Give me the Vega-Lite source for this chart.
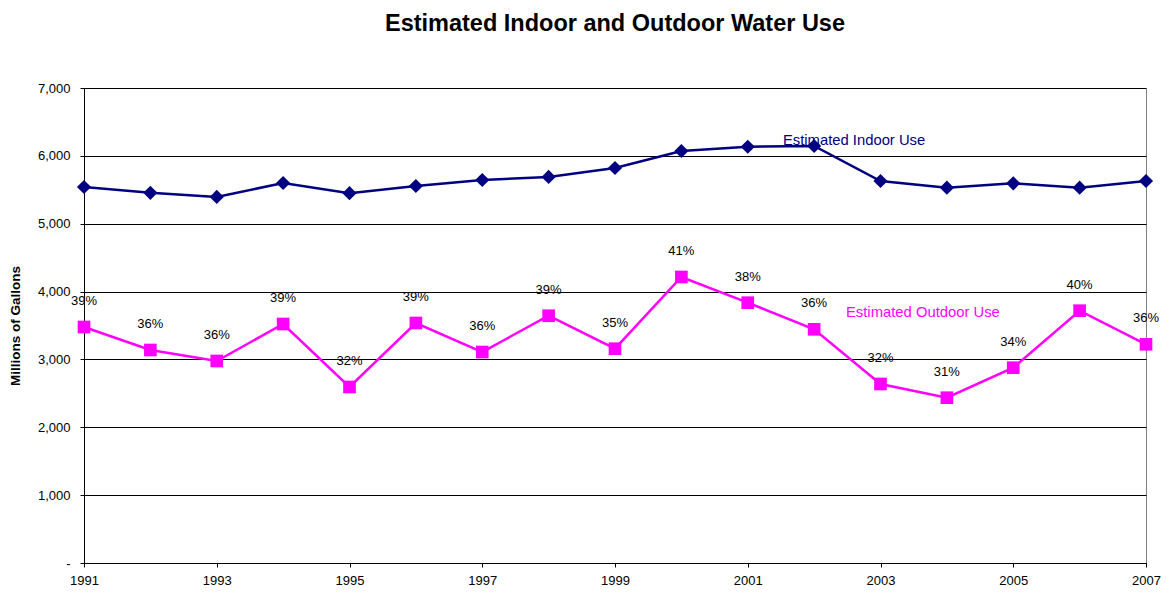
{
  "$schema": "https://vega.github.io/schema/vega-lite/v6.json",
  "width": 1062,
  "height": 475,
  "autosize": {"type": "none"},
  "padding": {"left": 84, "top": 88, "right": 20, "bottom": 29},
  "background": "white",
  "config": {
    "font": "Liberation Sans",
    "view": {"stroke": "#808080", "strokeWidth": 1},
    "title": {"font": "Liberation Sans", "fontSize": 23.5, "fontWeight": "bold", "color": "#000000", "anchor": "middle", "frame": "group", "offset": 47}
  },
  "title": "Estimated Indoor and Outdoor Water Use",
  "datasets": {
    "water": [
      {"year": 1991, "series": "Indoor", "value": 5541},
      {"year": 1992, "series": "Indoor", "value": 5455},
      {"year": 1993, "series": "Indoor", "value": 5395},
      {"year": 1994, "series": "Indoor", "value": 5600},
      {"year": 1995, "series": "Indoor", "value": 5450},
      {"year": 1996, "series": "Indoor", "value": 5556},
      {"year": 1997, "series": "Indoor", "value": 5644},
      {"year": 1998, "series": "Indoor", "value": 5690},
      {"year": 1999, "series": "Indoor", "value": 5821},
      {"year": 2000, "series": "Indoor", "value": 6071},
      {"year": 2001, "series": "Indoor", "value": 6135},
      {"year": 2002, "series": "Indoor", "value": 6145},
      {"year": 2003, "series": "Indoor", "value": 5629},
      {"year": 2004, "series": "Indoor", "value": 5531},
      {"year": 2005, "series": "Indoor", "value": 5595},
      {"year": 2006, "series": "Indoor", "value": 5531},
      {"year": 2007, "series": "Indoor", "value": 5629},
      {"year": 1991, "series": "Outdoor", "value": 3478, "pct": "39%"},
      {"year": 1992, "series": "Outdoor", "value": 3139, "pct": "36%"},
      {"year": 1993, "series": "Outdoor", "value": 2977, "pct": "36%"},
      {"year": 1994, "series": "Outdoor", "value": 3522, "pct": "39%"},
      {"year": 1995, "series": "Outdoor", "value": 2594, "pct": "32%"},
      {"year": 1996, "series": "Outdoor", "value": 3537, "pct": "39%"},
      {"year": 1997, "series": "Outdoor", "value": 3109, "pct": "36%"},
      {"year": 1998, "series": "Outdoor", "value": 3644, "pct": "39%"},
      {"year": 1999, "series": "Outdoor", "value": 3158, "pct": "35%"},
      {"year": 2000, "series": "Outdoor", "value": 4215, "pct": "41%"},
      {"year": 2001, "series": "Outdoor", "value": 3836, "pct": "38%"},
      {"year": 2002, "series": "Outdoor", "value": 3444, "pct": "36%"},
      {"year": 2003, "series": "Outdoor", "value": 2638, "pct": "32%"},
      {"year": 2004, "series": "Outdoor", "value": 2436, "pct": "31%"},
      {"year": 2005, "series": "Outdoor", "value": 2878, "pct": "34%"},
      {"year": 2006, "series": "Outdoor", "value": 3718, "pct": "40%"},
      {"year": 2007, "series": "Outdoor", "value": 3223, "pct": "36%"}
    ],
    "notes": [
      {"year": 2001.53, "value": 6219, "label": "Estimated Indoor Use", "series": "Indoor"},
      {"year": 2002.48, "value": 3684, "label": "Estimated Outdoor Use", "series": "Outdoor"}
    ]
  },
  "encoding": {
    "x": {
      "field": "year", "type": "quantitative",
      "scale": {"domain": [1991, 2007], "nice": false, "zero": false},
      "axis": {
        "title": null,
        "values": [1991, 1993, 1995, 1997, 1999, 2001, 2003, 2005, 2007],
        "format": "d",
        "grid": false,
        "domainColor": "#000000", "domainWidth": 1,
        "tickColor": "#000000", "tickSize": 4,
        "labelFont": "Liberation Sans", "labelFontSize": 13, "labelColor": "#000000",
        "labelPadding": 7, "labelFlush": false, "labelOverlap": false
      }
    },
    "y": {
      "field": "value", "type": "quantitative",
      "scale": {"domain": [0, 7000], "nice": false},
      "axis": {
        "title": "Millions of Gallons",
        "titleFont": "Liberation Sans", "titleFontSize": 13.5, "titleFontWeight": "bold", "titleColor": "#000000",
        "titleX": -62, "titlePadding": 20,
        "values": [0, 1000, 2000, 3000, 4000, 5000, 6000, 7000],
        "labelExpr": "datum.value == 0 ? '-' : format(datum.value, ',')",
        "grid": true, "gridColor": "#000000", "gridWidth": 1, "gridOpacity": 1,
        "domainColor": "#000000", "domainWidth": 1,
        "tickColor": "#000000", "tickSize": 4,
        "labelFont": "Liberation Sans", "labelFontSize": 13, "labelColor": "#000000",
        "labelPadding": 10
      }
    }
  },
  "layer": [
    {
      "data": {"name": "water"},
      "mark": {"type": "line", "strokeWidth": 2.5},
      "encoding": {
        "color": {"field": "series", "type": "nominal", "scale": {"domain": ["Indoor", "Outdoor"], "range": ["#000080", "#FF00FF"]}, "legend": null},
        "detail": {"field": "series"}
      }
    },
    {
      "data": {"name": "water"},
      "transform": [{"filter": "datum.series == 'Indoor'"}],
      "mark": {"type": "point", "shape": "diamond", "filled": true, "opacity": 1, "size": 200, "color": "#000080"},
      "encoding": {}
    },
    {
      "data": {"name": "water"},
      "transform": [{"filter": "datum.series == 'Outdoor'"}],
      "mark": {"type": "point", "shape": "square", "filled": true, "opacity": 1, "size": 160, "color": "#FF00FF"},
      "encoding": {}
    },
    {
      "data": {"name": "water"},
      "transform": [{"filter": "datum.series == 'Outdoor'"}],
      "mark": {"type": "text", "dy": -26, "fontSize": 13, "font": "Liberation Sans", "color": "#000000", "baseline": "middle", "align": "center"},
      "encoding": {"text": {"field": "pct"}}
    },
    {
      "data": {"name": "notes"},
      "mark": {"type": "text", "fontSize": 14.8, "font": "Liberation Sans", "align": "left", "baseline": "middle"},
      "encoding": {
        "text": {"field": "label"},
        "color": {"field": "series", "type": "nominal", "scale": {"domain": ["Indoor", "Outdoor"], "range": ["#000080", "#FF00FF"]}, "legend": null}
      }
    }
  ]
}
